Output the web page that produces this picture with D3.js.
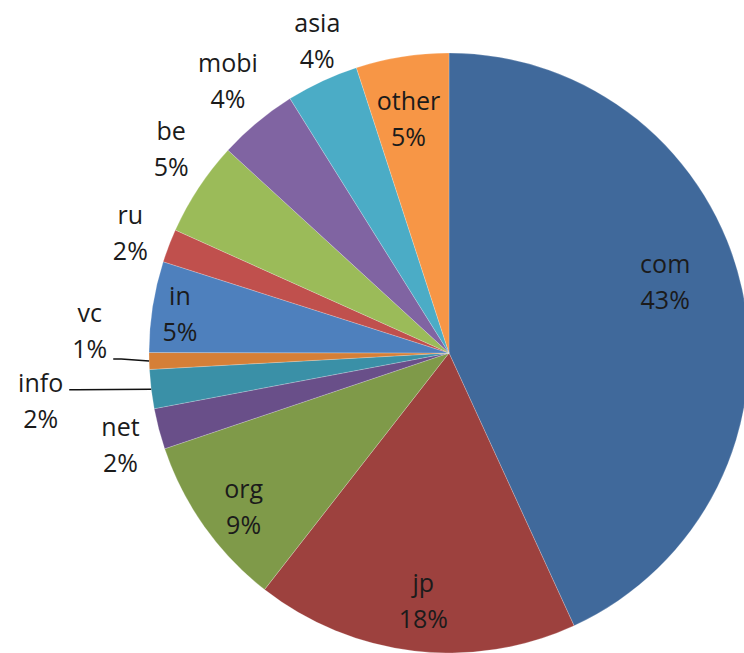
<!DOCTYPE html>
<html>
<head>
<meta charset="utf-8">
<script src="https://cdn.jsdelivr.net/npm/d3@7"></script>
<style>
  body { margin: 0; background: #fff; }
  svg { display: block; }
  text { font-family: "Open Sans", sans-serif; font-size: 25px; fill: #1b1b1b; }
</style>
</head>
<body>
<div id="chart"></div>
<script>
// slice names, clockwise from 12 o'clock
var names = ['com', 'jp', 'org', 'net', 'info', 'vc', 'in', 'ru', 'be', 'mobi', 'asia', 'other'];
// share of each slice
var shares = [43.2, 17.4, 9.3, 2.2, 2.1, 0.9, 4.9, 1.8, 5.1, 4.3, 3.9, 5.0];
// the percentages printed on the chart
var pctLabels = ['43%', '18%', '9%', '2%', '2%', '1%', '5%', '2%', '5%', '4%', '4%', '5%'];

var colors = ['#40699b', '#9d413e', '#7f9a49', '#694f89', '#3a90a7', '#d57f37',
              '#4e80bd', '#c0504d', '#9bbb59', '#8064a2', '#4bacc6', '#f79646'];

// label layout: distance from centre and small angle nudge (degrees)
var labelR = [228, 248, 256, 341, 411, 360, 272, 341, 345, 351, 340, 238];
var labelNudge = [-6.2, -0.7, -1.3, -0.9, 0.4, 5.2, -0.5, -0.1, 3, 0.7, 2.2, -0.8];
// leader line height relative to the label centre
var leaders = { vc: 29, info: -10 };

var W = 744, H = 653, cx = 449, cy = 353, R = 300;

var svg = d3.select('#chart').append('svg')
  .attr('width', W)
  .attr('height', H);

var g = svg.append('g').attr('transform', 'translate(' + cx + ',' + cy + ')');

var pie = d3.pie().sort(null).value(function(d) { return d; });
var arcs = pie(shares);

var arc = d3.arc().innerRadius(0).outerRadius(R);

g.selectAll('path')
  .data(arcs)
  .enter()
  .append('path')
  .attr('d', arc)
  .attr('fill', function(d, i) { return colors[i]; })
  .attr('stroke', 'rgba(255,255,255,0.35)')
  .attr('stroke-width', 0.6);

function polar(angle, r) {
  return [Math.sin(angle) * r, -Math.cos(angle) * r];
}

var labels = g.selectAll('g.lbl')
  .data(arcs)
  .enter()
  .append('g')
  .attr('class', 'lbl')
  .attr('transform', function(d, i) {
    var a = (d.startAngle + d.endAngle) / 2 + labelNudge[i] * Math.PI / 180;
    var p = polar(a, labelR[i]);
    return 'translate(' + p[0] + ',' + p[1] + ')';
  });

labels.append('text')
  .attr('text-anchor', 'middle')
  .attr('dominant-baseline', 'central')
  .attr('y', -18)
  .text(function(d, i) { return names[i]; });

labels.append('text')
  .attr('text-anchor', 'middle')
  .attr('dominant-baseline', 'central')
  .attr('y', 18)
  .text(function(d, i) { return pctLabels[i]; });

// leader lines for the two thin slices
labels.each(function(d, i) {
  if (!(names[i] in leaders)) return;
  var bb = this.getBBox();
  var a = (d.startAngle + d.endAngle) / 2 + labelNudge[i] * Math.PI / 180;
  var p = polar(a, labelR[i]);
  var mid = (d.startAngle + d.endAngle) / 2;
  var e = polar(mid, R);
  var sx = p[0] + bb.x + bb.width + 6;
  var sy = p[1] + leaders[names[i]];
  g.append('path')
    .attr('d', 'M' + sx + ',' + sy + 'L' + (sx + 8) + ',' + sy + 'L' + e[0] + ',' + e[1])
    .attr('fill', 'none')
    .attr('stroke', '#111')
    .attr('stroke-width', 1.5);
});
</script>
</body>
</html>
